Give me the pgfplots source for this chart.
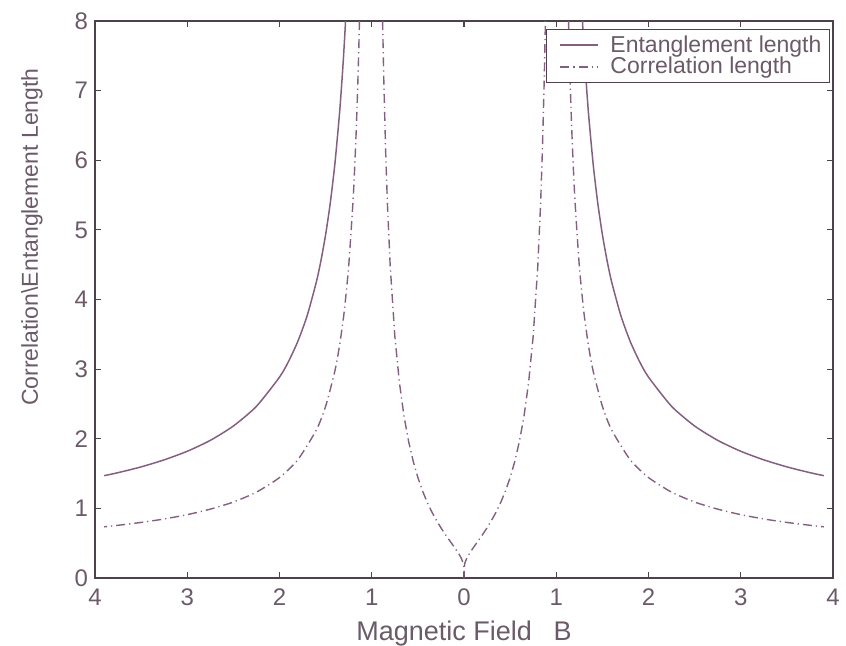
\documentclass[border=0pt]{standalone}
\usepackage{pgfplots}
\pgfplotsset{compat=1.18}
\usepackage{fontspec}
\setmainfont{Liberation Sans}
\usetikzlibrary{calc}

\definecolor{txtgray}{HTML}{6B5B69}
\definecolor{axgray}{HTML}{4D424B}
\definecolor{curve}{HTML}{846080}

\begin{document}
\begin{tikzpicture}
\begin{axis}[
    scale only axis,
    width=369pt, height=278.5pt,
    xmin=-4, xmax=4,
    ymin=0, ymax=8,
    xtick={-4,-3,-2,-1,0,1,2,3,4},
    xticklabels={4,3,2,1,0,1,2,3,4},
    ytick={0,1,2,3,4,5,6,7,8},
    tick align=inside,
    major tick length=3pt,
    axis line style={axgray, line width=0.9pt},
    every tick/.style={axgray, line width=0.6pt},
    tick label style={font=\fontsize{12}{14}\selectfont, text=txtgray},
    xticklabel style={yshift=-2pt},
    /pgf/number format/assume math mode=true,
    legend style={
        at={(rel axis cs:0.996,0.986)}, anchor=north east,
        draw=axgray, line width=0.6pt,
        font=\fontsize{11.5}{13}\selectfont, text=txtgray,
        row sep=-3pt, inner xsep=2pt, inner ysep=1pt,
    },
    legend cell align=left,
    legend image code/.code={\path[draw=none] (-5pt,0pt) -- (23pt,0pt);
        \draw[#1] (0pt,0pt) -- (19pt,0pt);},
]

% entanglement length, B > 1
\addplot[curve, line width=0.75pt, smooth, tension=0.4] coordinates {
    (1.284,8.0)(1.29,7.854)(1.3,7.623)(1.31,7.407)(1.32,7.204)(1.35,6.664)
    (1.4,5.944)(1.45,5.383)(1.5,4.933)(1.55,4.564)(1.6,4.255)(1.7,3.769)
    (1.8,3.403)(1.9,3.116)(2.0,2.885)(2.25,2.466)(2.5,2.183)(2.75,1.977)
    (3.0,1.820)(3.25,1.697)(3.5,1.596)(3.75,1.513)(3.9,1.470)
};
\addlegendentry{Entanglement length}

% correlation length, B > 1
\addplot[curve, line width=0.7pt, smooth, tension=0.4, dash pattern=on 4.5pt off 2pt on 0.6pt off 2pt] coordinates {
    (1.1331,8.0)(1.14,7.632)(1.15,7.155)(1.17,6.369)(1.2,5.485)(1.25,4.481)
    (1.3,3.811)(1.35,3.332)(1.4,2.972)(1.5,2.466)(1.6,2.128)(1.8,1.701)
    (2.0,1.443)(2.25,1.233)(2.5,1.091)(2.75,0.989)(3.0,0.910)(3.25,0.848)
    (3.5,0.798)(3.75,0.757)(3.9,0.735)
};
\addlegendentry{Correlation length}

% entanglement length, B < -1
\addplot[curve, line width=0.75pt, smooth, tension=0.4, forget plot] coordinates {
    (-1.284,8.0)(-1.29,7.854)(-1.3,7.623)(-1.31,7.407)(-1.32,7.204)(-1.35,6.664)
    (-1.4,5.944)(-1.45,5.383)(-1.5,4.933)(-1.55,4.564)(-1.6,4.255)(-1.7,3.769)
    (-1.8,3.403)(-1.9,3.116)(-2.0,2.885)(-2.25,2.466)(-2.5,2.183)(-2.75,1.977)
    (-3.0,1.820)(-3.25,1.697)(-3.5,1.596)(-3.75,1.513)(-3.9,1.470)
};

% correlation length, B < -1
\addplot[curve, line width=0.7pt, smooth, tension=0.4, dash pattern=on 4.5pt off 2pt on 0.6pt off 2pt, forget plot] coordinates {
    (-1.1331,8.0)(-1.14,7.632)(-1.15,7.155)(-1.17,6.369)(-1.2,5.485)(-1.25,4.481)
    (-1.3,3.811)(-1.35,3.332)(-1.4,2.972)(-1.5,2.466)(-1.6,2.128)(-1.8,1.701)
    (-2.0,1.443)(-2.25,1.233)(-2.5,1.091)(-2.75,0.989)(-3.0,0.910)(-3.25,0.848)
    (-3.5,0.798)(-3.75,0.757)(-3.9,0.735)
};

% correlation length, |B| < 1
\addplot[curve, line width=0.7pt, dash pattern=on 4.5pt off 2pt on 0.6pt off 2pt, forget plot] coordinates {
    (-0.8825,8.0)(-0.87,7.181)(-0.85,6.153)(-0.83,5.367)(-0.8,4.481)(-0.75,3.476)
    (-0.7,2.804)(-0.65,2.321)(-0.6,1.958)(-0.55,1.673)(-0.5,1.443)(-0.45,1.252)
    (-0.4,1.091)(-0.35,0.952)(-0.3,0.831)(-0.25,0.721)(-0.2,0.621)(-0.15,0.527)
    (-0.1,0.434)(-0.05,0.334)(-0.03,0.285)(-0.01,0.217)(-0.001,0.145)(0,0)
    (0.001,0.145)(0.01,0.217)(0.03,0.285)(0.05,0.334)(0.1,0.434)(0.15,0.527)
    (0.2,0.621)(0.25,0.721)(0.3,0.831)(0.35,0.952)(0.4,1.091)(0.45,1.252)
    (0.5,1.443)(0.55,1.673)(0.6,1.958)(0.65,2.321)(0.7,2.804)(0.75,3.476)
    (0.8,4.481)(0.83,5.367)(0.85,6.153)(0.87,7.181)(0.8825,8.0)
};
\end{axis}

\node[rotate=90, font=\fontsize{11.5}{14}\selectfont, text=txtgray]
    at ($(current axis.south west)!0.612!(current axis.north west) + (-31.5pt,0)$)
    {Correlation\textbackslash Entanglement Length};
\node[anchor=base, font=\fontsize{13.5}{15}\selectfont, text=txtgray]
    at ($(current axis.south) + (0,-31pt)$)
    {Magnetic Field\hspace{0.8em}B};

\pgfresetboundingbox
\path[use as bounding box] ($(current axis.south west) + (-47.5pt,-33.5pt)$)
    rectangle ($(current axis.north east) + (6.5pt,10.5pt)$);
\end{tikzpicture}
\end{document}
